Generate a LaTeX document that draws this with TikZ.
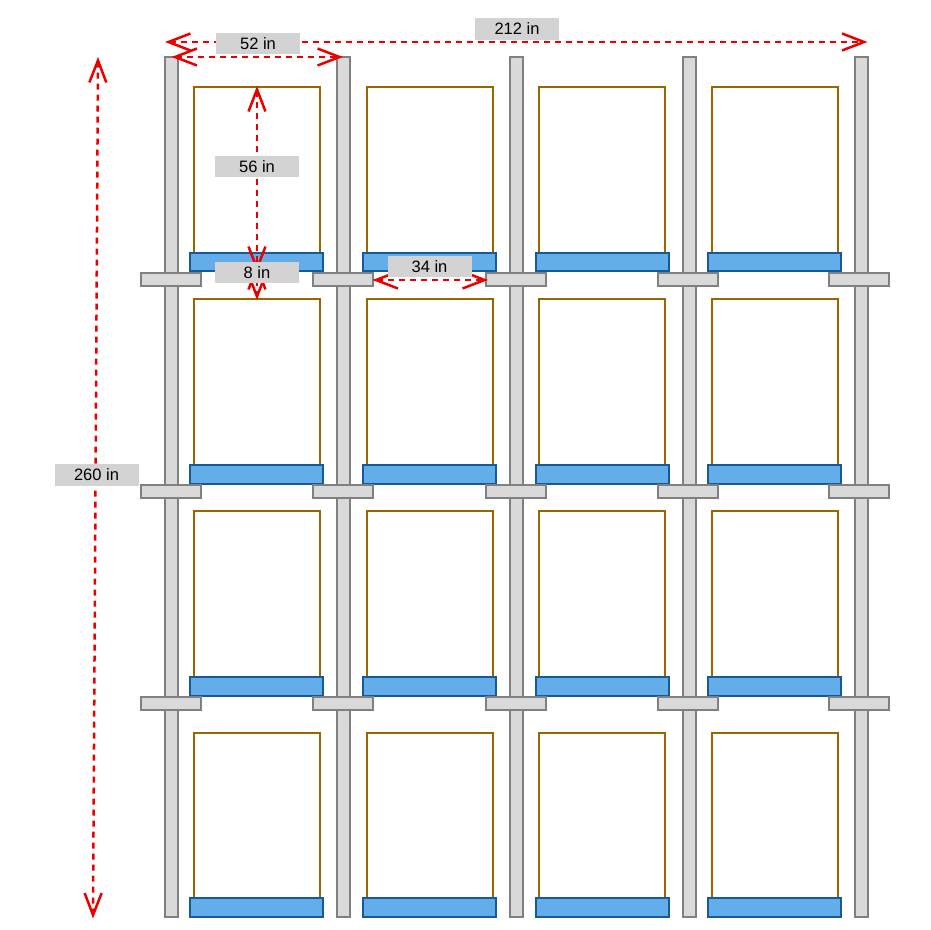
\documentclass[tikz,border=0pt]{standalone}
\usepackage{fontspec}
\setmainfont{Liberation Sans}
\usetikzlibrary{arrows.meta}
\definecolor{frameBrown}{HTML}{996600}
\definecolor{trayBlue}{HTML}{63AEEA}
\definecolor{trayEdge}{HTML}{175A96}
\definecolor{steelGray}{HTML}{D9D9D9}
\definecolor{steelEdge}{HTML}{808080}
\definecolor{tagGray}{HTML}{D3D3D3}

\begin{document}
\begin{tikzpicture}
[x=1pt,y=-1pt,%
  postDecorate/.style={shape=rectangle,inner sep=0pt,draw=steelEdge,fill=steelGray,line width=2pt,minimum width=12.4pt,minimum height=860.6pt},%
  barDecorate/.style={shape=rectangle,inner sep=0pt,draw=steelEdge,fill=steelGray,line width=2pt,minimum width=60pt,minimum height=12.7pt},%
  frameDecorate/.style={shape=rectangle,inner sep=0pt,draw=frameBrown,fill=white,line width=2pt,minimum width=126pt,minimum height=166pt},%
  trayDecorate/.style={shape=rectangle,inner sep=0pt,draw=trayEdge,fill=trayBlue,line width=2pt,minimum width=133pt,minimum height=18.6pt},%
  tagDecorate/.style={shape=rectangle,inner sep=0pt,fill=tagGray,minimum width=84pt,minimum height=21.5pt,font=\fontsize{16.5}{18}\selectfont},%
  dimArrow/.style={{Straight Barb[length=22pt,width=17pt]}-{Straight Barb[length=22pt,width=17pt]},draw=red!92!black,line width=2.5pt,dash pattern=on 6pt off 5pt}]
\useasboundingbox (0,0) rectangle (930,930);
%% posts
\foreach \nodename/\x in {1/171.5, 2/343.5, 3/516.5, 4/689.5, 5/861.5}
{
  \node (post\nodename) at (\x,487) [postDecorate] {};
}
%% frames and trays
\foreach \colname/\x/\tx in {a/257/256.5, b/429.5/429.5, c/602/602, d/774.5/774.5}
{
  \foreach \rowname/\y/\ty in {1/170/262, 2/382/474.3, 3/594/686.3, 4/815.5/907.7}
  {
    \node (frame\colname\rowname) at (\x,\y) [frameDecorate] {};
    \node (tray\colname\rowname) at (\tx,\ty) [trayDecorate] {};
  }
}
%% cross bars
\foreach \colname/\x in {1/171, 2/343, 3/516, 4/688, 5/859.3}
{
  \foreach \rowname/\y in {1/279.4, 2/491.5, 3/703.5}
  {
    \node (bar\colname\rowname) at (\x,\y) [barDecorate] {};
  }
}
%% ends of the dimension lines
\foreach \nodename/\x/\y in {wideL/165/42, wideR/867.5/42, bayL/171.5/57, bayR/343/57, highT/257/86,
  highB/257/272, gapT/257/264, gapB/257/300, clearL/372.5/280, clearR/488/280, tallT/98/57, tallB/93/918.5}
{
  \coordinate (\nodename) at (\x,\y);
}
%% dimension lines
\foreach \startnode/\endnode in {wideL/wideR, bayL/bayR, highT/highB, gapT/gapB, clearL/clearR, tallT/tallB}
{
  \draw[dimArrow] (\startnode) -- (\endnode);
}
%% labels
\foreach \nodename/\x/\y/\tag in {wide/517/29/212 in, bay/258/43.5/52 in, high/257/166.5/56 in,
  gap/257/272.5/8 in, clear/429.5/266.5/34 in, tall/96.5/475/260 in}
{
  \node (\nodename) at (\x,\y) [tagDecorate] {\tag};
}
\end{tikzpicture}
\end{document}
